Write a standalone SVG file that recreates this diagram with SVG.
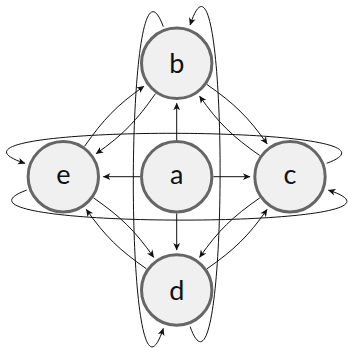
<svg xmlns="http://www.w3.org/2000/svg" width="348" height="348" viewBox="0 0 348 348">
<style>
.node circle{fill:#f0f0f0;stroke:#666;stroke-width:3}
.node text{font-family:Lato,"DejaVu Sans",sans-serif;font-size:27px;fill:#111;text-anchor:middle}
.edge{fill:none;stroke:#111;stroke-width:1;marker-end:url(#ah)}
</style>
<defs>
<marker id="ah" viewBox="-8 -4 9 8" refX="0" refY="0" markerWidth="9" markerHeight="8" markerUnits="userSpaceOnUse" orient="auto">
<path d="M0.5,0 L-7,-3.4 L-5,0 L-7,3.4 Z" fill="#111"/>
</marker>
</defs>
<g id="connectors">
<path class="edge" d="M176.7,140 L176.7,103.3"/>
<path class="edge" d="M213.4,176.7 L250,176.7"/>
<path class="edge" d="M176.7,213.4 L176.7,250"/>
<path class="edge" d="M140,176.7 L103.3,176.7"/>
<path class="edge" d="M84.53,146.39 C103.48,119.3 116.76,105.29 143.88,86.3"/>
<path class="edge" d="M155.47,93.61 C136.52,120.7 123.24,134.71 96.12,153.7"/>
<path class="edge" d="M207.01,84.53 C234.1,103.48 248.11,116.76 267.1,143.88"/>
<path class="edge" d="M259.69,155.47 C232.6,136.52 218.59,123.24 199.6,96.12"/>
<path class="edge" d="M207.01,268.77 C234.1,249.82 248.11,236.54 267.1,209.42"/>
<path class="edge" d="M259.69,197.93 C232.6,216.88 218.59,230.16 199.6,257.28"/>
<path class="edge" d="M146.39,268.77 C119.3,249.82 105.29,236.54 86.3,209.42"/>
<path class="edge" d="M93.61,197.93 C120.7,216.88 134.71,230.16 153.7,257.28"/>
<path class="edge" d="M326.7,163.3 C436.7,123.3 -98,123.3 25,163.3"/>
<path class="edge" d="M26.7,190.1 C-83.3,230.1 451.4,230.1 328.4,190.1"/>
<path class="edge" d="M163.3,26.7 C123.3,-83.3 123.3,451.4 163.3,328.4"/>
<path class="edge" d="M190.1,326.7 C230.1,436.7 230.1,-98 190.1,25"/>
</g>
<g id="node-a" class="node"><circle cx="176.7" cy="176.7" r="35.2"/><text x="176.7" y="183.6">a</text></g>
<g id="node-b" class="node"><circle cx="176.7" cy="63.3" r="35.2"/><text x="176.7" y="73">b</text></g>
<g id="node-c" class="node"><circle cx="290" cy="176.7" r="35.2"/><text x="290" y="183.6">c</text></g>
<g id="node-d" class="node"><circle cx="176.7" cy="290" r="35.2"/><text x="176.7" y="299.8">d</text></g>
<g id="node-e" class="node"><circle cx="63.3" cy="176.7" r="35.2"/><text x="63.3" y="183.6">e</text></g>
</svg>
